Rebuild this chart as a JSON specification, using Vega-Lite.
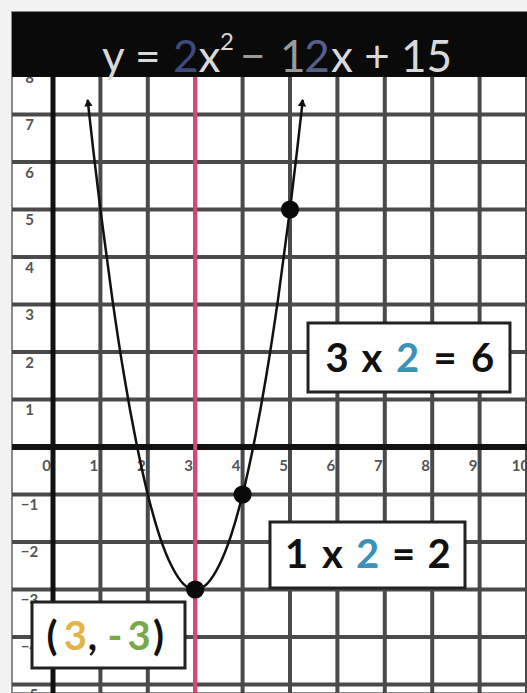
{
  "$schema": "https://vega.github.io/schema/vega-lite/v6.json",
  "width": 515,
  "height": 681,
  "autosize": {"type": "none"},
  "padding": {"left": 12, "top": 12, "right": 0, "bottom": 0},
  "background": "#f2f2f2",
  "config": {
    "view": {"fill": "#ffffff", "stroke": "#8a8a8a", "strokeWidth": 2},
    "legend": {"disable": true},
    "axisX": {
      "orient": "bottom", "offset": -246, "title": null,
      "grid": false, "domain": false, "ticks": false, "tickSize": 0,
      "labelPadding": 18, "labelBaseline": "middle", "labelAlign": "center", "labelOffset": -7,
      "labelFont": "Lato", "labelFontWeight": "bold", "labelFontSize": 15, "labelColor": "#555555",
      "labelOverlap": false, "labelFlush": false
    },
    "axisY": {
      "orient": "left", "offset": -17, "title": null,
      "grid": false, "domain": false, "ticks": false, "tickSize": 0,
      "labelPadding": 0, "labelBaseline": "middle", "labelAlign": "center", "labelOffset": 10,
      "labelFont": "Lato", "labelFontWeight": "bold", "labelFontSize": 15, "labelColor": "#555555",
      "labelOverlap": false, "labelFlush": false
    }
  },
  "datasets": {
    "vgrid": [
      {"x": 0}, {"x": 1}, {"x": 2}, {"x": 3}, {"x": 4}, {"x": 5},
      {"x": 6}, {"x": 7}, {"x": 8}, {"x": 9}, {"x": 10}
    ],
    "hgrid": [
      {"y": -5}, {"y": -4}, {"y": -3}, {"y": -2}, {"y": -1}, {"y": 1}, {"y": 2},
      {"y": 3}, {"y": 4}, {"y": 5}, {"y": 6}, {"y": 7}, {"y": 8}, {"y": 9}
    ],
    "curve": [
      {"x": 0.73, "y": 7.31}, {"x": 0.85, "y": 6.25}, {"x": 1.0, "y": 5.0}, {"x": 1.25, "y": 3.13},
      {"x": 1.5, "y": 1.5}, {"x": 1.75, "y": 0.13}, {"x": 2.0, "y": -1.0}, {"x": 2.25, "y": -1.88},
      {"x": 2.5, "y": -2.5}, {"x": 2.75, "y": -2.88}, {"x": 3.0, "y": -3.0}, {"x": 3.25, "y": -2.88},
      {"x": 3.5, "y": -2.5}, {"x": 3.75, "y": -1.88}, {"x": 4.0, "y": -1.0}, {"x": 4.25, "y": 0.13},
      {"x": 4.5, "y": 1.5}, {"x": 4.75, "y": 3.13}, {"x": 5.0, "y": 5.0}, {"x": 5.15, "y": 6.25},
      {"x": 5.27, "y": 7.31}
    ],
    "arrows": [
      {"x": 0.74, "y": 7.25, "side": "left"},
      {"x": 5.26, "y": 7.25, "side": "right"}
    ],
    "points": [
      {"x": 3, "y": -3}, {"x": 4, "y": -1}, {"x": 5, "y": 5}
    ],
    "boxes": [
      {"x": 5.38, "x2": 9.641, "y": 2.611, "y2": 1.158},
      {"x": 4.578, "x2": 8.692, "y": -1.579, "y2": -2.968},
      {"x": -0.443, "x2": 2.785, "y": -3.263, "y2": -4.653}
    ],
    "chars": [
      {"t": "3", "x": 5.992, "y": 1.832, "part": "ink"},
      {"t": "x", "x": 6.73, "y": 1.832, "part": "ink"},
      {"t": "2", "x": 7.479, "y": 1.832, "part": "blue"},
      {"t": "=", "x": 8.27, "y": 1.832, "part": "ink"},
      {"t": "6", "x": 9.061, "y": 1.832, "part": "ink"},
      {"t": "1", "x": 5.137, "y": -2.295, "part": "ink"},
      {"t": "x", "x": 5.897, "y": -2.295, "part": "ink"},
      {"t": "2", "x": 6.635, "y": -2.295, "part": "blue"},
      {"t": "=", "x": 7.395, "y": -2.295, "part": "ink"},
      {"t": "2", "x": 8.143, "y": -2.295, "part": "ink"},
      {"t": "(", "x": -0.02, "y": -4.021, "part": "ink"},
      {"t": "3", "x": 0.47, "y": -4.021, "part": "orange"},
      {"t": ",", "x": 0.83, "y": -4.021, "part": "ink"},
      {"t": "-", "x": 1.308, "y": -4.021, "part": "green"},
      {"t": "3", "x": 1.814, "y": -4.021, "part": "green"},
      {"t": ")", "x": 2.225, "y": -4.021, "part": "ink"}
    ],
    "bar": [
      {"x": -0.865, "x2": 10, "y": 7.79, "y2": 9.158}
    ],
    "title": [
      {"t": "y =", "x": 1.034, "y": 7.895, "part": "light"},
      {"t": "2", "x": 2.532, "y": 7.895, "part": "coef"},
      {"t": "x", "x": 3.07, "y": 7.895, "part": "light"},
      {"t": "−", "x": 3.945, "y": 7.895, "part": "dim"},
      {"t": "1", "x": 4.79, "y": 7.895, "part": "dim"},
      {"t": "2", "x": 5.3, "y": 7.895, "part": "coefdim"},
      {"t": "x + 15", "x": 5.865, "y": 7.895, "part": "light"}
    ],
    "sup": [
      {"t": "2", "x": 3.523, "y": 8.35, "part": "light"}
    ]
  },
  "layer": [
    {
      "data": {"name": "vgrid"},
      "mark": {"type": "rule", "color": "#4a4a4a", "strokeWidth": 4},
      "encoding": {
        "x": {"field": "x", "type": "quantitative", "scale": {"domain": [-0.865, 10], "nice": false, "zero": false},
              "axis": {"values": [0, 1, 2, 3, 4, 5, 6, 7, 8, 9, 10]}}
      }
    },
    {
      "data": {"name": "hgrid"},
      "mark": {"type": "rule", "color": "#4a4a4a", "strokeWidth": 4},
      "encoding": {
        "y": {"field": "y", "type": "quantitative", "scale": {"domain": [-5.179, 9.158], "nice": false, "zero": false},
              "axis": {"values": [-5, -4, -3, -2, -1, 1, 2, 3, 4, 5, 6, 7, 8]}}
      }
    },
    {
      "data": {"values": [{"x": 0}]},
      "mark": {"type": "rule", "color": "#111111", "strokeWidth": 5},
      "encoding": {
        "x": {"field": "x", "type": "quantitative", "scale": {"domain": [-0.865, 10], "nice": false, "zero": false}}
      }
    },
    {
      "data": {"values": [{"y": 0}]},
      "mark": {"type": "rule", "color": "#111111", "strokeWidth": 6},
      "encoding": {
        "y": {"field": "y", "type": "quantitative", "scale": {"domain": [-5.179, 9.158], "nice": false, "zero": false}}
      }
    },
    {
      "data": {"values": [{"x": 3}]},
      "mark": {"type": "rule", "color": "#d9477a", "strokeWidth": 4},
      "encoding": {
        "x": {"field": "x", "type": "quantitative", "scale": {"domain": [-0.865, 10], "nice": false, "zero": false}}
      }
    },
    {
      "data": {"name": "curve"},
      "mark": {"type": "line", "color": "#111111", "strokeWidth": 2.5, "interpolate": "monotone"},
      "encoding": {
        "x": {"field": "x", "type": "quantitative", "scale": {"domain": [-0.865, 10], "nice": false, "zero": false}},
        "y": {"field": "y", "type": "quantitative", "scale": {"domain": [-5.179, 9.158], "nice": false, "zero": false}}
      }
    },
    {
      "data": {"name": "arrows"},
      "mark": {"type": "point", "shape": "triangle-up", "filled": true, "color": "#111111", "size": 70, "opacity": 1},
      "encoding": {
        "x": {"field": "x", "type": "quantitative", "scale": {"domain": [-0.865, 10], "nice": false, "zero": false}},
        "y": {"field": "y", "type": "quantitative", "scale": {"domain": [-5.179, 9.158], "nice": false, "zero": false}},
        "angle": {"field": "side", "type": "nominal", "scale": {"domain": ["left", "right"], "range": [-6, 6]}}
      }
    },
    {
      "data": {"name": "points"},
      "mark": {"type": "circle", "color": "#0a0a0a", "size": 330, "opacity": 1},
      "encoding": {
        "x": {"field": "x", "type": "quantitative", "scale": {"domain": [-0.865, 10], "nice": false, "zero": false}},
        "y": {"field": "y", "type": "quantitative", "scale": {"domain": [-5.179, 9.158], "nice": false, "zero": false}}
      }
    },
    {
      "data": {"name": "boxes"},
      "mark": {"type": "rect", "fill": "#ffffff", "stroke": "#222222", "strokeWidth": 3},
      "encoding": {
        "x": {"field": "x", "type": "quantitative", "scale": {"domain": [-0.865, 10], "nice": false, "zero": false}},
        "x2": {"field": "x2"},
        "y": {"field": "y", "type": "quantitative", "scale": {"domain": [-5.179, 9.158], "nice": false, "zero": false}},
        "y2": {"field": "y2"}
      }
    },
    {
      "data": {"name": "chars"},
      "mark": {"type": "text", "font": "Lato", "fontWeight": "bold", "fontSize": 40, "align": "center", "baseline": "middle"},
      "encoding": {
        "x": {"field": "x", "type": "quantitative", "scale": {"domain": [-0.865, 10], "nice": false, "zero": false}},
        "y": {"field": "y", "type": "quantitative", "scale": {"domain": [-5.179, 9.158], "nice": false, "zero": false}},
        "text": {"field": "t"},
        "color": {"field": "part", "type": "nominal", "scale": {"domain": ["light", "coef", "dim", "coefdim", "ink", "blue", "orange", "green"], "range": ["#d9d9d9", "#3c4a7c", "#9a9a9a", "#56608a", "#111111", "#3a92b8", "#e3b443", "#78aa48"]}, "legend": null}
      }
    },
    {
      "data": {"name": "bar"},
      "mark": {"type": "rect", "fill": "#0a0a0a", "clip": true},
      "encoding": {
        "x": {"field": "x", "type": "quantitative", "scale": {"domain": [-0.865, 10], "nice": false, "zero": false}},
        "x2": {"field": "x2"},
        "y": {"field": "y", "type": "quantitative", "scale": {"domain": [-5.179, 9.158], "nice": false, "zero": false}},
        "y2": {"field": "y2"}
      }
    },
    {
      "data": {"name": "title"},
      "mark": {"type": "text", "font": "Lato", "fontSize": 44, "align": "left", "baseline": "alphabetic"},
      "encoding": {
        "x": {"field": "x", "type": "quantitative", "scale": {"domain": [-0.865, 10], "nice": false, "zero": false}},
        "y": {"field": "y", "type": "quantitative", "scale": {"domain": [-5.179, 9.158], "nice": false, "zero": false}},
        "text": {"field": "t"},
        "color": {"field": "part", "type": "nominal", "scale": {"domain": ["light", "coef", "dim", "coefdim", "ink", "blue", "orange", "green"], "range": ["#d9d9d9", "#3c4a7c", "#9a9a9a", "#56608a", "#111111", "#3a92b8", "#e3b443", "#78aa48"]}, "legend": null}
      }
    },
    {
      "data": {"name": "sup"},
      "mark": {"type": "text", "font": "Lato", "fontSize": 24, "align": "left", "baseline": "alphabetic"},
      "encoding": {
        "x": {"field": "x", "type": "quantitative", "scale": {"domain": [-0.865, 10], "nice": false, "zero": false}},
        "y": {"field": "y", "type": "quantitative", "scale": {"domain": [-5.179, 9.158], "nice": false, "zero": false}},
        "text": {"field": "t"},
        "color": {"field": "part", "type": "nominal", "scale": {"domain": ["light", "coef", "dim", "coefdim", "ink", "blue", "orange", "green"], "range": ["#d9d9d9", "#3c4a7c", "#9a9a9a", "#56608a", "#111111", "#3a92b8", "#e3b443", "#78aa48"]}, "legend": null}
      }
    }
  ]
}
